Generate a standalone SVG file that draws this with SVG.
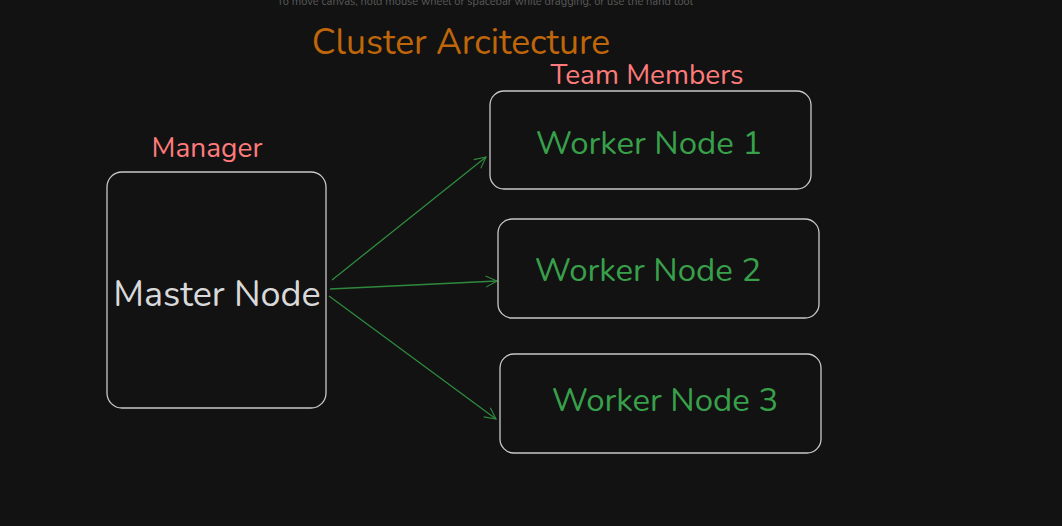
<svg xmlns="http://www.w3.org/2000/svg" width="1062" height="526" viewBox="0 0 1062 526">
<defs>
<style>
.box{fill:none;stroke:#c8c8c8;stroke-width:1.3}
.t{font-family:"Nunito","Noto Sans","Open Sans",sans-serif}
.green{fill:#38a04a;font-size:33px}
.label{fill:#ff7b7b;font-size:28px}
.conn{stroke:#2f8a3e;stroke-width:1.3;fill:none;marker-end:url(#ah)}
</style>
<marker id="ah" viewBox="0 0 20 20" refX="18" refY="10" markerWidth="14" markerHeight="14" markerUnits="userSpaceOnUse" orient="auto">
<path d="M2,2 L18,10 L2,18" fill="none" stroke="#2f8a3e" stroke-width="1.6"/>
</marker>
</defs>
<rect width="1062" height="526" fill="#121212"/>
<text class="t" x="485" y="5" text-anchor="middle" font-size="11" fill="#5a5a5a">To move canvas, hold mouse wheel or spacebar while dragging, or use the hand tool</text>
<text class="t" x="461" y="54" text-anchor="middle" font-size="35.5" fill="#c0660a">Cluster Arcitecture</text>
<g id="connectors">
<path class="conn" d="M332,280 L486,157"/>
<path class="conn" d="M330,289 L497,281" stroke-width="1.8"/>
<path class="conn" d="M329,296 L496,419"/>
</g>
<g id="master">
<text class="t label" x="207" y="157" text-anchor="middle">Manager</text>
<rect class="box" x="107" y="172" width="219" height="236" rx="15"/>
<text class="t" x="217" y="306" text-anchor="middle" font-size="36" fill="#d9d9d9">Master Node</text>
</g>
<g id="worker1">
<text class="t label" x="647" y="84" text-anchor="middle">Team Members</text>
<rect class="box" x="490" y="91" width="321" height="98" rx="14"/>
<text class="t green" x="649" y="154" text-anchor="middle">Worker Node 1</text>
</g>
<g id="worker2">
<rect class="box" x="498" y="219" width="321" height="99" rx="14"/>
<text class="t green" x="648" y="281" text-anchor="middle">Worker Node 2</text>
</g>
<g id="worker3">
<rect class="box" x="500" y="354" width="321" height="99" rx="14"/>
<text class="t green" x="665" y="411" text-anchor="middle">Worker Node 3</text>
</g>
</svg>
